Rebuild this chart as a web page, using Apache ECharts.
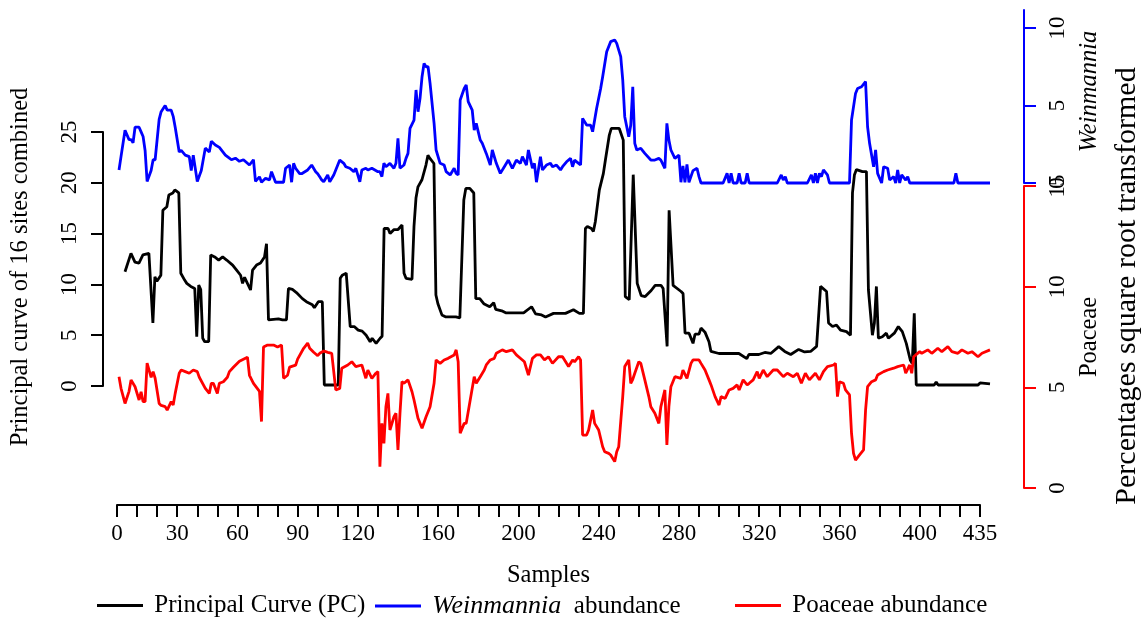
<!DOCTYPE html>
<html><head><meta charset="utf-8">
<script src="https://cdn.jsdelivr.net/npm/echarts@6/dist/echarts.min.js"></script>
<style>html,body{margin:0;padding:0;background:#fff}#c{width:1146px;height:618px}</style>
</head><body><div id="c"></div>
<script>
// Principal curve (PC) of 16 sites combined: [sample, value]
const pcCurve = [[1,11.25],[2,11.25],[4,13.06],[6,12.2],[8,12.1],[10,12.9],[13,13.06],[15,6.2],[16,10.75],[17,10.3],[19,10.9],[20,17.3],[22,17.65],[23,18.8],[25,19.0],[26,19.3],[28,19.0],[29,11.1],[31,10.4],[32,10.1],[34,9.8],[36,9.6],[37,4.85],[38,9.94],[39,9.5],[40,4.7],[41,4.36],[43,4.36],[44,12.9],[46,12.7],[48,12.4],[50,12.7],[52,12.4],[55,11.9],[57,11.4],[59,10.9],[60,10.1],[61,10.7],[64,9.45],[65,11.4],[67,11.9],[69,12.1],[71,12.7],[72,14.0],[73,6.5],[78,6.6],[80,6.5],[82,6.5],[83,9.6],[85,9.5],[87,9.2],[90,8.6],[92,8.3],[95,8.0],[96,7.7],[98,8.3],[100,8.3],[101,0.1],[108,0.1],[109,10.6],[110,10.9],[112,11.1],[114,5.85],[116,5.85],[118,5.5],[120,5.4],[122,5.0],[124,4.36],[125,4.7],[127,4.2],[129,4.7],[130,4.9],[131,15.5],[133,15.5],[134,15.0],[136,15.4],[138,15.4],[140,15.85],[141,11.1],[142,10.6],[145,10.5],[146,15.7],[147,18.5],[148,19.6],[150,20.3],[152,21.75],[153,22.7],[154,22.4],[156,21.9],[157,8.96],[158,8.1],[160,7.0],[162,6.8],[167,6.8],[169,6.7],[170,6.7],[171,18.3],[172,19.45],[174,19.45],[176,19.0],[177,8.6],[179,8.6],[181,8.1],[184,7.8],[186,8.2],[187,7.55],[190,7.4],[192,7.2],[201,7.2],[205,7.8],[207,7.1],[210,7.0],[212,6.8],[216,7.15],[222,7.15],[226,7.5],[229,7.15],[231,7.15],[232,15.5],[233,15.7],[235,15.5],[236,15.2],[237,16.2],[239,19.3],[241,20.9],[242,22.2],[244,24.7],[245,25.35],[249,25.35],[251,24.2],[252,8.8],[254,8.5],[255,8.6],[256,20.8],[257,20.8],[258,10.1],[260,8.9],[262,8.8],[265,9.4],[267,9.9],[270,9.9],[271,9.6],[272,9.5],[273,3.9],[274,17.3],[275,17.2],[276,9.9],[280,9.3],[281,9.1],[282,5.2],[284,5.2],[286,4.2],[287,5.1],[289,5.1],[290,5.7],[292,5.3],[294,4.36],[295,3.4],[299,3.2],[305,3.2],[309,3.2],[313,2.7],[314,3.1],[319,3.1],[322,3.3],[325,3.2],[329,3.87],[332,3.4],[335,3.1],[339,3.6],[342,3.35],[345,3.4],[348,3.9],[349,3.9],[350,9.8],[353,9.3],[354,6.2],[356,5.85],[358,6.0],[360,5.5],[363,5.35],[365,5.0],[366,19.0],[367,20.8],[368,21.3],[371,21.1],[373,21.1],[374,9.45],[375,9.45],[376,5.0],[377,6.2],[378,9.8],[379,4.7],[381,4.85],[383,5.2],[384,4.7],[387,5.2],[389,5.85],[391,5.35],[393,4.2],[395,2.56],[396,2.2],[397,7.15],[398,0.1],[407,0.1],[408,0.4],[409,0.1],[429,0.1],[430,0.3],[435,0.2]];

// Weinmannia abundance (percentages, square root transformed): [sample, value]
const weinmannia = [[1,0.84],[2,1.7],[4,3.4],[6,2.8],[7,2.8],[8,2.6],[9,3.6],[11,3.6],[12,3.3],[13,3.0],[14,2.1],[15,0.1],[17,0.8],[18,1.5],[19,1.5],[21,4.1],[22,4.6],[24,5.0],[25,4.7],[27,4.7],[28,4.3],[29,3.6],[31,2.0],[32,2.1],[34,1.8],[36,1.7],[37,0.8],[38,1.8],[40,0.1],[42,0.8],[44,2.25],[46,2.0],[47,2.7],[49,2.45],[51,2.3],[54,1.8],[56,1.6],[57,1.5],[59,1.6],[61,1.4],[63,1.5],[66,1.16],[68,1.5],[69,0.1],[71,0.4],[72,0.05],[74,0.3],[76,0.2],[77,0.73],[79,0.05],[83,0.05],[84,0.95],[86,1.16],[87,0.05],[88,1.27],[89,0.95],[91,0.6],[92,0.6],[95,0.84],[97,1.16],[99,0.73],[100,0.6],[101,0.4],[102,0.2],[103,0.08],[105,0.52],[106,0.08],[108,0.52],[110,1.16],[111,1.48],[113,1.27],[114,1.05],[116,0.95],[118,0.73],[119,0.95],[121,0.08],[122,0.84],[124,0.95],[125,0.84],[127,0.95],[130,0.73],[131,0.73],[132,0.41],[133,1.27],[134,1.05],[136,1.27],[138,0.95],[139,1.27],[140,2.88],[141,0.95],[143,1.16],[144,1.59],[145,1.91],[146,3.53],[148,4.06],[149,6.0],[150,4.6],[151,5.46],[152,6.86],[153,7.72],[154,7.5],[155,7.5],[156,6.43],[158,3.85],[159,2.13],[161,1.27],[163,1.16],[164,0.73],[166,0.52],[168,0.95],[169,0.62],[170,0.52],[171,5.35],[173,6.1],[174,6.32],[175,5.25],[177,4.7],[178,3.42],[179,3.85],[181,2.77],[182,2.56],[184,1.91],[186,1.16],[187,2.13],[189,1.27],[191,0.62],[193,1.05],[195,1.48],[197,0.95],[199,1.48],[201,1.27],[202,1.7],[204,1.16],[205,2.13],[207,0.95],[208,1.27],[209,0.05],[211,1.7],[212,0.84],[214,1.16],[216,1.27],[217,1.05],[219,1.16],[221,0.84],[222,1.05],[224,1.37],[226,1.59],[227,1.05],[228,1.48],[230,1.27],[231,1.16],[232,4.17],[234,3.74],[236,3.74],[237,3.31],[239,4.82],[241,6.1],[242,6.86],[244,8.47],[246,9.12],[248,9.23],[249,9.01],[251,8.15],[252,6.65],[253,4.28],[255,2.99],[256,3.74],[257,6.21],[258,2.56],[259,2.13],[261,2.24],[263,1.91],[266,1.48],[268,1.48],[270,1.59],[271,1.48],[273,0.95],[274,3.85],[275,2.77],[276,2.13],[278,1.59],[280,1.8],[281,0.05],[282,1.1],[283,0.05],[284,1.2],[285,0.05],[287,0.8],[289,0.95],[290,0.41],[291,0],[302,0],[304,0.62],[305,0],[306,0.62],[307,0],[309,0],[310,0.62],[311,0],[313,0],[314,0.62],[315,0],[329,0],[331,0.52],[332,0.19],[333,0.41],[334,0],[344,0],[346,0.52],[347,0],[348,0.62],[349,0],[350,0.62],[351,0.41],[352,0.84],[354,0.52],[355,0],[365,0],[366,4.06],[368,5.78],[369,6.1],[371,6.21],[373,6.54],[374,3.63],[375,2.56],[377,1.05],[378,2.13],[379,0.62],[381,0],[382,1.05],[384,0.95],[385,0.19],[387,0.41],[388,0],[389,0.84],[390,0],[391,0.52],[393,0.19],[394,0.41],[395,0],[417,0],[418,0.62],[419,0],[435,0]];

// Poaceae abundance (percentages, square root transformed): [sample, value]
const poaceae = [[1,5.53],[2,4.95],[4,4.2],[6,4.8],[7,5.37],[9,5.03],[11,4.37],[12,4.78],[13,4.29],[14,4.29],[15,6.2],[17,5.5],[18,5.78],[19,5.45],[21,4.2],[22,4.1],[24,4.04],[25,3.87],[27,4.29],[28,4.12],[29,4.7],[31,5.7],[32,5.86],[34,5.78],[36,5.7],[38,5.86],[40,5.78],[41,5.5],[44,4.95],[46,4.7],[47,5.2],[48,5.2],[50,4.7],[51,5.2],[53,5.28],[55,5.5],[56,5.78],[58,6.0],[61,6.3],[63,6.4],[65,6.5],[66,5.6],[68,5.2],[71,4.8],[72,3.3],[73,7.0],[75,7.1],[78,7.1],[80,7.0],[82,7.1],[83,5.45],[85,5.6],[86,6.0],[89,6.1],[90,6.4],[93,6.94],[95,7.2],[96,6.94],[98,6.74],[100,6.57],[101,6.69],[103,6.8],[104,6.77],[105,6.74],[107,6.69],[109,4.87],[111,4.95],[112,5.95],[115,6.11],[117,6.27],[119,6.03],[122,6.11],[124,5.45],[125,5.86],[127,5.45],[129,5.7],[130,5.78],[131,1.06],[132,3.21],[133,2.22],[134,4.04],[135,4.7],[136,2.88],[138,3.54],[139,3.71],[140,1.89],[141,3.71],[142,5.28],[143,5.2],[145,5.37],[147,4.78],[148,4.37],[150,3.46],[152,2.97],[154,3.54],[156,4.04],[158,5.2],[159,6.36],[161,6.19],[163,6.36],[165,6.44],[168,6.61],[169,6.86],[170,6.27],[171,2.72],[173,3.21],[174,3.21],[176,4.37],[178,5.53],[179,5.2],[181,5.53],[183,5.86],[184,6.11],[186,6.36],[188,6.44],[189,6.69],[192,6.86],[194,6.77],[197,6.86],[199,6.61],[202,6.36],[203,6.27],[205,5.61],[207,6.44],[209,6.61],[211,6.61],[213,6.36],[215,6.52],[217,6.19],[220,6.52],[222,6.52],[225,6.03],[227,6.36],[228,6.27],[230,6.52],[231,6.36],[232,2.63],[234,2.63],[235,2.88],[237,3.87],[238,3.21],[240,2.88],[242,2.05],[243,1.8],[245,1.72],[246,1.64],[248,1.31],[249,1.8],[250,2.05],[252,4.54],[253,6.03],[255,6.36],[256,5.2],[257,5.4],[258,5.7],[260,6.27],[261,6.19],[263,5.37],[265,4.54],[266,4.04],[268,3.71],[270,3.21],[271,4.04],[273,4.87],[274,2.14],[275,4.04],[276,5.03],[278,5.53],[281,5.45],[282,5.86],[284,5.45],[286,6.19],[287,6.36],[290,6.36],[291,6.19],[293,5.86],[295,5.37],[296,5.12],[298,4.54],[300,4.12],[301,4.54],[303,4.45],[305,4.87],[307,4.95],[309,5.12],[310,4.87],[312,5.37],[314,5.12],[315,5.2],[317,5.37],[319,5.78],[320,5.45],[322,5.86],[324,5.53],[327,5.86],[329,5.86],[332,5.53],[334,5.7],[337,5.53],[339,5.7],[341,5.2],[343,5.7],[345,5.37],[348,5.7],[350,5.37],[352,5.78],[354,6.03],[357,6.11],[358,6.19],[359,4.54],[360,5.28],[362,5.2],[363,4.87],[365,4.62],[366,2.72],[367,1.72],[368,1.39],[370,1.64],[372,1.89],[373,3.87],[374,5.03],[376,5.28],[378,5.37],[379,5.61],[382,5.78],[384,5.86],[387,5.95],[389,6.03],[392,6.11],[393,5.7],[395,6.11],[396,5.7],[397,6.52],[398,6.61],[400,6.77],[401,6.69],[404,6.86],[406,6.69],[409,6.94],[411,6.77],[414,7.02],[416,6.77],[419,6.69],[421,6.86],[424,6.69],[426,6.77],[429,6.52],[431,6.69],[435,6.86]];

// Axis ticks and labels
const xTickPositions = [0,10,20,30,40,50,60,70,80,90,100,110,120,130,140,150,160,170,180,190,200,210,220,230,240,250,260,270,280,290,300,310,320,330,340,350,360,370,380,390,400,410,420,430];
const xLabelPositions = [0,30,60,90,120,160,200,240,280,320,360,400,430];
const xLabelTexts = ['0','30','60','90','120','160','200','240','280','320','360','400','435'];
const pcTicks = [0,5,10,15,20,25];
const weinTicks = [0,5,10];
const poaTicks = [0,5,10,15];

const FONT = 'Liberation Serif';
const chart = echarts.init(document.getElementById('c'));

const L = 117, W = 873;
function yAx(gi, pos, offset, min, max, ticks, color, name, nameGap, italic, namePad){
  return {
    gridIndex: gi, type: 'value', position: pos, offset: offset, min: min, max: max,
    axisLine: {show: true, onZero: false, lineStyle: {color: color, width: 2}},
    axisTick: {show: true, length: 12, customValues: ticks, lineStyle: {color: color, width: 2}},
    axisLabel: {show: true, customValues: ticks, rotate: 90, margin: 22, color: '#000', fontSize: 23, fontFamily: FONT},
    splitLine: {show: false},
    name: name, nameLocation: 'middle', nameGap: nameGap,
    nameTextStyle: {color: '#000', fontSize: 24.5, fontFamily: FONT, fontStyle: italic ? 'italic' : 'normal', padding: namePad || 0}
  };
}
function hiddenX(gi){ return {gridIndex: gi, type: 'value', min: 0, max: 435, show: false, axisLine: {onZero: false}}; }

const option = {
  animation: false,
  backgroundColor: '#fff',
  grid: [
    {left: L, width: W, top: 132, height: 254},
    {left: L, width: W, top: 10, height: 173},
    {left: L, width: W, top: 186, height: 302},
    {left: L, width: 863, top: 504, height: 1}
  ],
  xAxis: [
    hiddenX(0), hiddenX(1), hiddenX(2),
    {
      gridIndex: 3, type: 'value', min: 0, max: 430, position: 'bottom',
      axisLine: {show: true, onZero: false, lineStyle: {color: '#000', width: 2}},
      axisTick: {show: true, length: 12, customValues: xTickPositions, lineStyle: {color: '#000', width: 2}},
      axisLabel: {show: true, customValues: xLabelPositions, margin: 17, color: '#000', fontSize: 23, fontFamily: FONT,
        formatter: function(v){ const i = xLabelPositions.indexOf(v); return i >= 0 ? xLabelTexts[i] : ''; }},
      splitLine: {show: false},
      name: 'Samples', nameLocation: 'middle', nameGap: 58,
      nameTextStyle: {color: '#000', fontSize: 24.5, fontFamily: FONT}
    }
  ],
  yAxis: [
    yAx(0, 'left', 20, 0, 25, pcTicks, '#000', 'Principal curve of 16 sites combined', 70, false, [0, 16, 0, 0]),
    yAx(1, 'right', 34, 0, 173/15.5, weinTicks, '#0000FF', 'Weinmannia', 52, true, [0, 0, 0, 10]),
    yAx(2, 'right', 34, 0, 15, poaTicks, '#FF0000', 'Poaceae', 52, false),
    {gridIndex: 3, type: 'value', show: false}
  ],
  legend: [
    {left: 97, top: 593, data: ['Principal Curve (PC)']},
    {left: 375, top: 593, data: ['Weinmannia abundance']},
    {left: 735, top: 593, data: ['Poaceae abundance']}
  ].map(function(l){
    return Object.assign({
      icon: 'rect', itemWidth: 46, itemHeight: 3, padding: 0, itemGap: 0,
      formatter: function(n){ return n === 'Weinmannia abundance' ? ' {i|Weinmannia}  abundance' : ' ' + n; },
      textStyle: {color: '#000', fontSize: 25, fontFamily: FONT,
        rich: {i: {fontStyle: 'italic', fontSize: 26, fontFamily: FONT, color: '#000'}}}
    }, l);
  }),
  graphic: [{
    type: 'text', x: 1127, y: 286, rotation: Math.PI / 2,
    style: {text: 'Percentages square root transformed', fill: '#000', font: '30px "Liberation Serif"',
      textAlign: 'center', textVerticalAlign: 'middle'}
  }],
  series: [
    {name: 'Principal Curve (PC)', type: 'line', xAxisIndex: 0, yAxisIndex: 0, data: pcCurve,
     showSymbol: false, symbol: 'none', clip: false, lineStyle: {color: '#000', width: 2.8}, itemStyle: {color: '#000'}},
    {name: 'Weinmannia abundance', type: 'line', xAxisIndex: 1, yAxisIndex: 1, data: weinmannia,
     showSymbol: false, symbol: 'none', clip: false, lineStyle: {color: '#0000FF', width: 2.8}, itemStyle: {color: '#0000FF'}},
    {name: 'Poaceae abundance', type: 'line', xAxisIndex: 2, yAxisIndex: 2, data: poaceae,
     showSymbol: false, symbol: 'none', clip: false, lineStyle: {color: '#FF0000', width: 2.8}, itemStyle: {color: '#FF0000'}}
  ]
};
chart.setOption(option);
</script>
</body></html>
